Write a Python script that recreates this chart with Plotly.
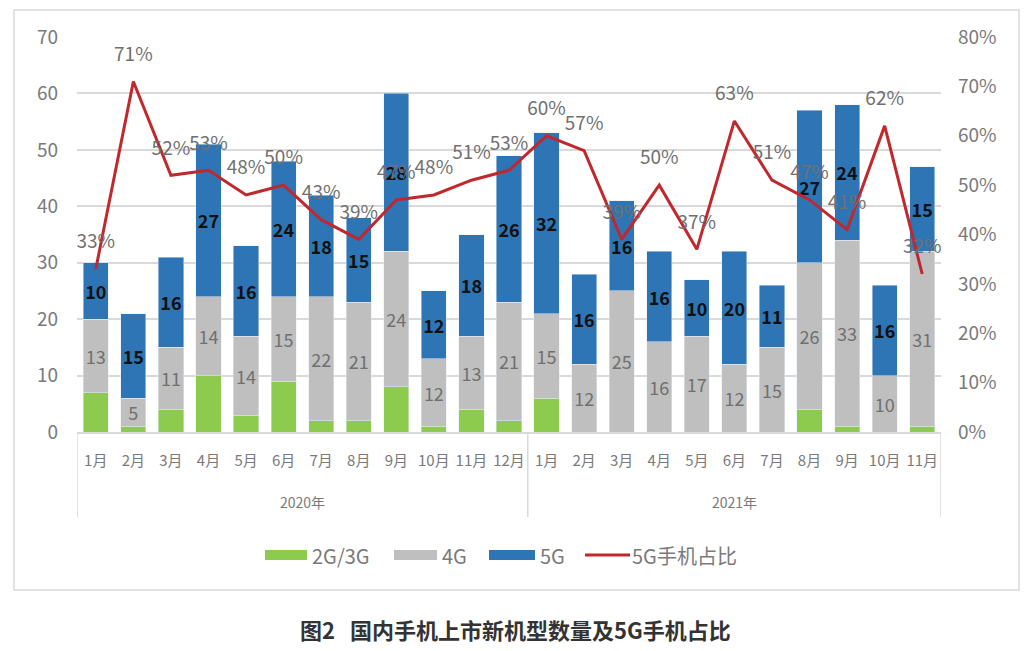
import plotly.graph_objects as go

years = ["2020年", "2021年"]
months_2020 = [f"{i}月" for i in range(1, 13)]
months_2021 = [f"{i}月" for i in range(1, 12)]
months = months_2020 + months_2021
categories = [f"{years[0]}{m}" for m in months_2020] + [f"{years[1]}{m}" for m in months_2021]
g23 = [7, 1, 4, 10, 3, 9, 2, 2, 8, 1, 4, 2, 6, 0, 0, 0, 0, 0, 0, 4, 1, 0, 1]
g4 = [13, 5, 11, 14, 14, 15, 22, 21, 24, 12, 13, 21, 15, 12, 25, 16, 17, 12, 15, 26, 33, 10, 31]
g5 = [10, 15, 16, 27, 16, 24, 18, 15, 28, 12, 18, 26, 32, 16, 16, 16, 10, 20, 11, 27, 24, 16, 15]
share = [33, 71, 52, 53, 48, 50, 43, 39, 47, 48, 51, 53, 60, 57, 39, 50, 37, 63, 51, 47, 41, 62, 32]
series_names = ["2G/3G", "4G", "5G", "5G手机占比"]
colors = ["#8DCB4E", "#BFBFBF", "#2E75B6", "#C0282D"]

FONT = "Noto Sans CJK SC"
GREY = "#7A7A7A"
LINE = "#D9D9D9"

OFF = 8  # page body margin
W, H = 1036 - OFF, 651 - OFF
L, R, T, B = 69, 95, 29, 219
PW, PH = W - L - R, H - T - B


def px(sx):
    return (sx - OFF - L) / PW


def py(sy):
    return (H - B - (sy - OFF)) / PH


fig = go.Figure()
fig.add_trace(go.Bar(x=categories, y=g23, name=series_names[0], marker_color=colors[0]))
fig.add_trace(go.Bar(x=categories, y=g4, name=series_names[1], marker_color=colors[1],
                     text=[str(v) for v in g4], textposition="inside", insidetextanchor="middle",
                     textfont=dict(color="#707070", size=18, family=FONT), constraintext="none"))
fig.add_trace(go.Bar(x=categories, y=g5, name=series_names[2], marker_color=colors[2],
                     text=[f"<b>{v}</b>" for v in g5], textposition="inside", insidetextanchor="middle",
                     textfont=dict(color="#111111", size=18, family=FONT), constraintext="none"))
fig.add_trace(go.Scatter(x=categories, y=[v / 100 for v in share], name=series_names[3],
                         mode="lines+markers+text", yaxis="y2",
                         line=dict(color=colors[3], width=3),
                         marker=dict(size=24, color="rgba(0,0,0,0)"),
                         text=[f"{v}%" for v in share], textposition="top center",
                         textfont=dict(color="#707070", size=19, family=FONT)))

fig.update_layout(
    barmode="stack", bargap=0.33,
    width=W, height=H,
    margin=dict(l=L, r=R, t=T, b=B),
    paper_bgcolor="white", plot_bgcolor="white",
    font=dict(family=FONT, color=GREY),
    showlegend=False,
    xaxis=dict(type="category", domain=[0, 1], tickvals=categories, ticktext=months,
               tickfont=dict(size=15, color=GREY, family=FONT), tickangle=0, automargin=False,
               showline=True, linecolor=LINE, linewidth=1.5, ticks="", ticklabelstandoff=14,
               range=[-0.5, len(categories) - 0.5]),
    yaxis=dict(range=[0, 70], dtick=10, showgrid=True, gridcolor=LINE, gridwidth=1.5,
               tickfont=dict(size=19, color=GREY, family=FONT), zeroline=False,
               automargin=False, ticklabelstandoff=18),
    yaxis2=dict(range=[0, 0.8], dtick=0.1, tickformat=".0%", showgrid=False, overlaying="y",
                side="right", tickfont=dict(size=19, color=GREY, family=FONT), zeroline=False,
                automargin=False, ticklabelstandoff=16),
)

# category-axis dividers and year labels
n20 = len(months_2020)
for xd in [-0.5, n20 - 0.5, len(categories) - 0.5]:
    fig.add_shape(type="line", xref="x", yref="paper", x0=xd, x1=xd, y0=0, y1=py(517),
                  line=dict(color=LINE, width=1.5))
fig.add_annotation(text=years[0], xref="x", yref="paper", x=(n20 - 1) / 2, y=py(502),
                   xanchor="center", yanchor="middle", showarrow=False,
                   font=dict(size=14, color=GREY, family=FONT))
fig.add_annotation(text=years[1], xref="x", yref="paper", x=n20 + (len(months_2021) - 1) / 2, y=py(502),
                   xanchor="center", yanchor="middle", showarrow=False,
                   font=dict(size=14, color=GREY, family=FONT))

# outer frame
fig.add_shape(type="rect", xref="paper", yref="paper", x0=px(14), x1=px(1019), y0=py(590), y1=py(10),
              line=dict(color=LINE, width=1.5), fillcolor="rgba(0,0,0,0)", layer="below")

# legend (manual, wide swatches)
leg_y = 555
swatches = [(265, 307, 310), (394, 437, 440), (489, 535, 538)]
for (a, b, t), name, col in zip(swatches, series_names[:3], colors[:3]):
    fig.add_shape(type="rect", xref="paper", yref="paper", x0=px(a), x1=px(b),
                  y0=py(leg_y + 5), y1=py(leg_y - 5), line=dict(width=0), fillcolor=col)
    fig.add_annotation(text=name, xref="paper", yref="paper", x=px(t), y=py(leg_y),
                       xanchor="left", yanchor="middle", showarrow=False,
                       font=dict(size=20, color=GREY, family=FONT))
fig.add_shape(type="line", xref="paper", yref="paper", x0=px(585), x1=px(630),
              y0=py(leg_y), y1=py(leg_y), line=dict(color=colors[3], width=3))
fig.add_annotation(text=series_names[3], xref="paper", yref="paper", x=px(630), y=py(leg_y),
                   xanchor="left", yanchor="middle", showarrow=False,
                   font=dict(size=20, color=GREY, family=FONT))

fig.add_annotation(text="<b>图2   国内手机上市新机型数量及5G手机占比</b>", xref="paper", yref="paper",
                   x=px(515), y=py(629), xanchor="center", yanchor="middle", showarrow=False,
                   font=dict(size=22, color="#333333", family=FONT))

fig.write_html("out.html")
